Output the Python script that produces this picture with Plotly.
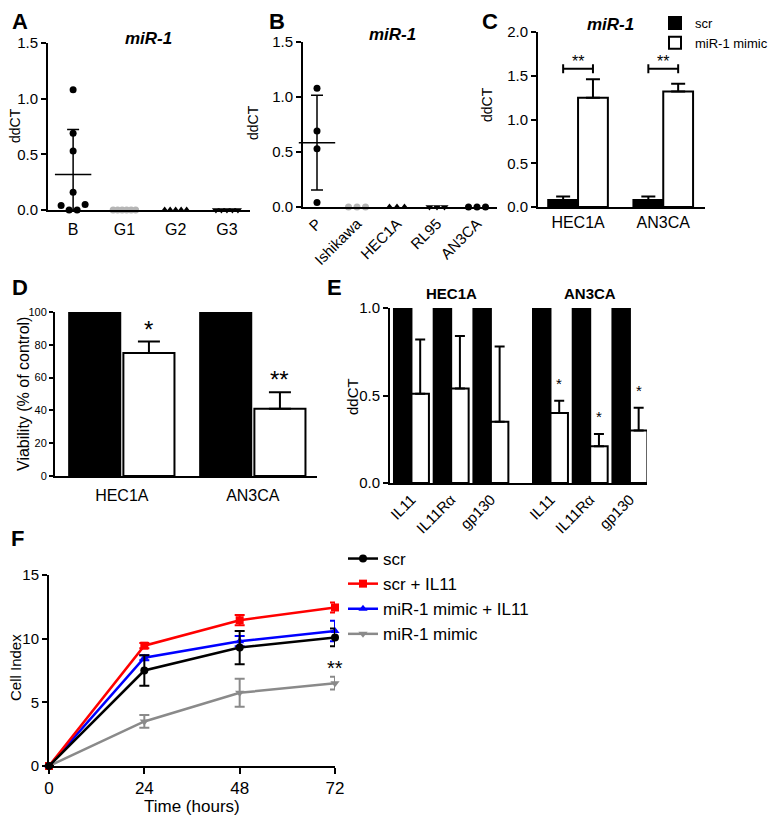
import plotly.graph_objects as go

W, H = 779, 819          # browser window
OFF = 8                  # default page margin of the html body
FW, FH = W - OFF, H - OFF
FONT = "Liberation Sans, Arial, sans-serif"

# ------------------------------------------------------------------ data
A_categories = ["B", "G1", "G2", "G3"]
A_B = [1.08, 0.69, 0.53, 0.16, 0.04, 0.00, 0.00, 0.05]
A_G1 = [0.0, 0.0, 0.0, 0.0, 0.0, 0.0]
A_G2 = [0.0, 0.0, 0.0, 0.0, 0.0]
A_G3 = [0.0, 0.0, 0.0, 0.0, 0.0]

B_categories = ["P", "Ishikawa", "HEC1A", "RL95", "AN3CA"]
B_P = [1.08, 0.69, 0.53, 0.04]
B_Ishikawa = [0.0, 0.0, 0.0]
B_HEC1A = [0.0, 0.0, 0.0]
B_RL95 = [0.0, 0.0, 0.0]
B_AN3CA = [0.0, 0.0, 0.0]

C_groups = ["HEC1A", "AN3CA"]
C_scr = [0.08, 0.08]
C_scr_err = [0.04, 0.04]
C_mimic = [1.25, 1.32]
C_mimic_err = [0.21, 0.09]
C_sig = ["**", "**"]
C_bracket_level = 1.58

D_groups = ["HEC1A", "AN3CA"]
D_scr = [100, 100]
D_mimic = [75, 41]
D_mimic_err = [7, 10]
D_sig = ["*", "**"]

E_cell_lines = ["HEC1A", "AN3CA"]
E_genes = ["IL11", "IL11Rα", "gp130"]
E_scr = [1.0, 1.0, 1.0, 1.0, 1.0, 1.0]
E_mimic = [0.51, 0.54, 0.35, 0.40, 0.21, 0.30]
E_mimic_err = [0.31, 0.30, 0.43, 0.07, 0.07, 0.13]
E_sig = ["", "", "", "*", "*", "*"]

F_time = [0, 24, 48, 72]
F_scr = [0, 7.5, 9.3, 10.1]
F_scr_err = [0, 1.2, 1.3, 0.7]
F_scr_il11 = [0, 9.45, 11.45, 12.45]
F_scr_il11_err = [0, 0.2, 0.4, 0.4]
F_mimic_il11 = [0, 8.5, 9.8, 10.6]
F_mimic_il11_err = [0, 0.2, 0.4, 0.8]
F_mimic = [0, 3.5, 5.75, 6.5]
F_mimic_err = [0, 0.5, 1.1, 0.5]
F_sig = "**"

# ------------------------------------------------------------------ layout geometry (window pixels)
BOX = {
    "A": (48, 250, 43, 210),
    "B": (303, 497, 42, 207),
    "C": (538, 705, 32, 207),
    "D": (55, 317, 312, 476),
    "E": (390, 647, 308, 483),
    "F": (49, 335, 575, 766),
}
RANGE = {
    "A": ([-0.49, 3.45], [0, 1.5]),
    "B": ([-0.35, 4.5], [0, 1.5]),
    "C": ([-0.47, 1.49], [0, 2.0]),
    "D": ([-0.51, 1.49], [0, 100]),
    "E": ([-0.54, 5.93], [0, 1.0]),
    "F": ([0, 72], [0, 15]),
}
AXN = {"A": "", "B": "2", "C": "3", "D": "4", "E": "5", "F": "6"}

BLACK = "black"
LGREY = "#b5b5b5"
GREY = "#8a8a8a"


def px2paper_x(p):
    return (p - OFF) / FW


def px2paper_y(p):
    return 1 - (p - OFF) / FH


def px_per_unit(panel):
    x0, x1, y0, y1 = BOX[panel]
    xr, yr = RANGE[panel]
    return (x1 - x0) / (xr[1] - xr[0]), (y1 - y0) / (yr[1] - yr[0])


def mean_sd(vals):
    n = len(vals)
    m = sum(vals) / n
    if n < 2:
        return m, 0.0
    v = sum((x - m) ** 2 for x in vals) / (n - 1)
    return m, v ** 0.5


def swarm(vals, panel, spacing_px, tol_px=7):
    """simple beeswarm: values that overlap vertically are laid out side by side"""
    ux, uy = px_per_unit(panel)
    clusters = []
    for i, v in enumerate(vals):
        for c in clusters:
            if abs(vals[c[0]] - v) * uy < tol_px:
                c.append(i)
                break
        else:
            clusters.append([i])
    offs = [0.0] * len(vals)
    for c in clusters:
        n = len(c)
        for k, idx in enumerate(c):
            offs[idx] = (k - (n - 1) / 2) * spacing_px / ux
    return offs


fig = go.Figure()


def xa(p):
    return "x" + AXN[p]


def ya(p):
    return "y" + AXN[p]


# ------------------------------------------------------------------ dot plots A and B
def dot_panel(panel, groups, styles):
    for i, (vals, (sym, col, sp)) in enumerate(zip(groups, styles)):
        offs = swarm(vals, panel, sp)
        fig.add_trace(go.Scatter(
            x=[i + o for o in offs], y=vals, mode="markers",
            marker=dict(symbol=sym, size=7, color=col, line=dict(width=0)),
            xaxis=xa(panel), yaxis=ya(panel), showlegend=False, cliponaxis=False,
            hoverinfo="skip"))
        m, sd = mean_sd(vals)
        if sd > 0:
            fig.add_trace(go.Scatter(
                x=[i], y=[m], mode="markers",
                marker=dict(symbol="line-ew", size=26, color=BLACK,
                            line=dict(width=1.5, color=BLACK)),
                error_y=dict(type="data", symmetric=False, array=[sd],
                             arrayminus=[min(sd, m)], width=6, thickness=1.5, color=BLACK),
                xaxis=xa(panel), yaxis=ya(panel), showlegend=False, cliponaxis=False,
                hoverinfo="skip"))


dot_panel("A", [A_B, A_G1, A_G2, A_G3],
          [("circle", BLACK, 8), ("circle", LGREY, 4.5),
           ("triangle-up", BLACK, 5.5), ("triangle-down", BLACK, 5.5)])
dot_panel("B", [B_P, B_Ishikawa, B_HEC1A, B_RL95, B_AN3CA],
          [("circle", BLACK, 8), ("circle", LGREY, 8.5),
           ("triangle-up", BLACK, 7.5), ("triangle-down", BLACK, 7.5), ("circle", BLACK, 8.5)])

# ------------------------------------------------------------------ C bars
CW = 0.35
cx = list(range(len(C_groups)))
fig.add_trace(go.Bar(
    x=cx, y=C_scr, width=CW, offset=-CW, name="scr",
    marker=dict(color=BLACK, line=dict(color=BLACK, width=2)),
    error_y=dict(type="data", symmetric=False, array=C_scr_err, arrayminus=[0] * 2,
                 width=7, thickness=2, color=BLACK),
    xaxis=xa("C"), yaxis=ya("C"), legend="legend", hoverinfo="skip"))
fig.add_trace(go.Bar(
    x=cx, y=C_mimic, width=CW, offset=0, name="miR-1 mimic",
    marker=dict(color="white", line=dict(color=BLACK, width=2)),
    error_y=dict(type="data", symmetric=False, array=C_mimic_err, arrayminus=[0] * 2,
                 width=7, thickness=2, color=BLACK),
    xaxis=xa("C"), yaxis=ya("C"), legend="legend", hoverinfo="skip"))

shapes = []
annotations = []


def note(**kw):
    d = dict(showarrow=False, xanchor="center", yanchor="middle")
    d.update(kw)
    annotations.append(d)


_, cuy = px_per_unit("C")
cap = 4.5 / cuy
for i, s in enumerate(C_sig):
    xl, xr = i - CW / 2, i + CW / 2
    shapes.append(dict(type="line", xref="x3", yref="y3", x0=xl, x1=xr,
                       y0=C_bracket_level, y1=C_bracket_level, line=dict(color=BLACK, width=2)))
    for xe in (xl, xr):
        shapes.append(dict(type="line", xref="x3", yref="y3", x0=xe, x1=xe,
                           y0=C_bracket_level - cap, y1=C_bracket_level + cap,
                           line=dict(color=BLACK, width=2)))
    note(x=i, y=C_bracket_level, xref="x3", yref="y3", text=s, yanchor="bottom", yshift=-3,
         font=dict(size=16, color=BLACK, family=FONT))

# ------------------------------------------------------------------ D bars
DW = 0.39
dx = list(range(len(D_groups)))
fig.add_trace(go.Bar(
    x=dx, y=D_scr, width=DW, offset=-DW - 0.012, showlegend=False,
    marker=dict(color=BLACK, line=dict(color=BLACK, width=2)),
    xaxis=xa("D"), yaxis=ya("D"), hoverinfo="skip"))
fig.add_trace(go.Bar(
    x=dx, y=D_mimic, width=DW, offset=0.012, showlegend=False,
    marker=dict(color="white", line=dict(color=BLACK, width=2)),
    error_y=dict(type="data", symmetric=False, array=D_mimic_err, arrayminus=[0] * 2,
                 width=11, thickness=2, color=BLACK),
    xaxis=xa("D"), yaxis=ya("D"), hoverinfo="skip"))
for i, s in enumerate(D_sig):
    note(x=i + 0.012 + DW / 2, y=D_mimic[i] + D_mimic_err[i], xref="x4", yref="y4", text=s,
         yanchor="bottom", yshift=-3, font=dict(size=24, color=BLACK, family=FONT))

# ------------------------------------------------------------------ E bars
EW = 0.44
GROUP_GAP = 0.5
ex = [g + li * (len(E_genes) + GROUP_GAP) for li in range(len(E_cell_lines))
      for g in range(len(E_genes))]
fig.add_trace(go.Bar(
    x=ex, y=E_scr, width=EW, offset=-EW, showlegend=False,
    marker=dict(color=BLACK, line=dict(color=BLACK, width=2)),
    xaxis=xa("E"), yaxis=ya("E"), hoverinfo="skip"))
fig.add_trace(go.Bar(
    x=ex, y=E_mimic, width=EW, offset=0, showlegend=False,
    marker=dict(color="white", line=dict(color=BLACK, width=2)),
    error_y=dict(type="data", symmetric=False, array=E_mimic_err, arrayminus=[0] * 6,
                 width=5, thickness=2, color=BLACK),
    xaxis=xa("E"), yaxis=ya("E"), hoverinfo="skip"))
for i, s in enumerate(E_sig):
    if s:
        note(x=ex[i] + EW / 2, y=E_mimic[i] + E_mimic_err[i], xref="x5", yref="y5", text=s,
             yanchor="bottom", yshift=7, font=dict(size=15, color=BLACK, family=FONT))
for li, name in enumerate(E_cell_lines):
    xs = ex[li * len(E_genes):(li + 1) * len(E_genes)]
    note(x=sum(xs) / len(xs), y=px2paper_y(293), xref="x5", yref="paper",
         text="<b>%s</b>" % name, font=dict(size=15, color=BLACK, family=FONT))

# ------------------------------------------------------------------ F lines
F_series = [
    ("scr", F_scr, F_scr_err, BLACK, "circle", 1),
    ("scr + IL11", F_scr_il11, F_scr_il11_err, "#ff0000", "square", 2),
    ("miR-1 mimic + IL11", F_mimic_il11, F_mimic_il11_err, "#0000ff", "triangle-up", 3),
    ("miR-1 mimic", F_mimic, F_mimic_err, GREY, "triangle-down", 4),
]
for name, vals, err, col, sym, rank in reversed(F_series):
    fig.add_trace(go.Scatter(
        x=F_time, y=vals, mode="lines+markers", name=name,
        line=dict(color=col, width=2.5),
        marker=dict(symbol=sym, size=8, color=col),
        error_y=dict(type="data", array=err, width=5, thickness=2, color=col),
        xaxis=xa("F"), yaxis=ya("F"), legend="legend2", legendrank=rank,
        cliponaxis=False, hoverinfo="skip"))
note(x=F_time[-1], y=F_mimic[-1] + F_mimic_err[-1], xref="x6", yref="y6", text=F_sig,
     yanchor="bottom", yshift=-4, font=dict(size=20, color=BLACK, family=FONT))

# ------------------------------------------------------------------ axes


def base_axis(panel, is_x, **kw):
    x0, x1, y0, y1 = BOX[panel]
    xr, yr = RANGE[panel]
    if is_x:
        dom = [px2paper_x(x0), px2paper_x(x1)]
        rng = xr
        anchor = ya(panel)
    else:
        dom = [px2paper_y(y1), px2paper_y(y0)]
        rng = yr
        anchor = xa(panel)
    d = dict(domain=dom, range=rng, anchor=anchor, showline=True, linecolor=BLACK,
             linewidth=2, showgrid=False, zeroline=False, ticks="outside", ticklen=5,
             tickwidth=2, tickcolor=BLACK, fixedrange=True, automargin=False,
             tickfont=dict(size=15, color=BLACK, family=FONT))
    d.update(kw)
    return d


ax = {}
ax["xaxis"] = base_axis("A", True, ticks="", tickvals=list(range(4)), ticktext=A_categories,
                        ticklabelstandoff=4, tickfont=dict(size=16, color=BLACK, family=FONT))
ax["yaxis"] = base_axis("A", False, tickvals=[0, 0.5, 1.0, 1.5], tickformat=".1f")
ax["xaxis2"] = base_axis("B", True, ticks="", tickvals=list(range(5)), ticktext=B_categories,
                         tickangle=-45, tickfont=dict(size=15, color=BLACK, family=FONT))
ax["yaxis2"] = base_axis("B", False, tickvals=[0, 0.5, 1.0, 1.5], tickformat=".1f")
ax["xaxis3"] = base_axis("C", True, ticks="", tickvals=cx, ticktext=C_groups,
                         tickfont=dict(size=16, color=BLACK, family=FONT))
ax["yaxis3"] = base_axis("C", False, tickvals=[0, 0.5, 1.0, 1.5, 2.0], tickformat=".1f")
ax["xaxis4"] = base_axis("D", True, ticks="", tickvals=dx, ticktext=D_groups,
                         ticklabelstandoff=4, tickfont=dict(size=16, color=BLACK, family=FONT))
ax["yaxis4"] = base_axis("D", False, tickvals=[0, 20, 40, 60, 80, 100], ticklen=4,
                         tickfont=dict(size=11, color=BLACK, family=FONT))
ax["xaxis5"] = base_axis("E", True, ticks="", tickvals=ex, ticktext=E_genes * 2,
                         tickangle=-45, tickfont=dict(size=15, color=BLACK, family=FONT))
ax["yaxis5"] = base_axis("E", False, tickvals=[0, 0.5, 1.0], tickformat=".1f")
ax["xaxis6"] = base_axis("F", True, tickvals=F_time, ticklen=6,
                         tickfont=dict(size=17, color=BLACK, family=FONT))
ax["yaxis6"] = base_axis("F", False, tickvals=[0, 5, 10, 15], ticklen=5,
                         tickfont=dict(size=15, color=BLACK, family=FONT))

# panel letters, titles, axis titles
for letter, (lx, ly) in {"A": (20, 21), "B": (277, 21), "C": (490, 21),
                         "D": (20, 287), "E": (334, 287), "F": (17, 538)}.items():
    note(x=px2paper_x(lx), y=px2paper_y(ly), xref="paper", yref="paper",
         text="<b>%s</b>" % letter, font=dict(size=22, color=BLACK, family=FONT))
for tx, ty in [(148, 38), (392, 35), (610, 24)]:
    note(x=px2paper_x(tx), y=px2paper_y(ty), xref="paper", yref="paper",
         text="<b><i>miR-1</i></b>", font=dict(size=17, color=BLACK, family=FONT))
for text, tx, ty, size in [("ddCT", 15, 126, 14), ("ddCT", 253, 122, 14), ("ddCT", 487, 105, 14),
                           ("Viability (% of control)", 23, 394, 16), ("ddCT", 352, 397, 15),
                           ("Cell Index", 15, 668, 15)]:
    note(x=px2paper_x(tx), y=px2paper_y(ty), xref="paper", yref="paper",
         text=text, textangle=-90, font=dict(size=size, color=BLACK, family=FONT))
note(x=px2paper_x(192), y=px2paper_y(806), xref="paper", yref="paper",
     text="Time (hours)", font=dict(size=17, color=BLACK, family=FONT))

fig.update_layout(
    width=FW, height=FH, autosize=False,
    margin=dict(l=0, r=0, t=0, b=0, pad=0, autoexpand=False),
    paper_bgcolor="white", plot_bgcolor="white",
    barmode="overlay",
    font=dict(family=FONT, color=BLACK),
    shapes=shapes, annotations=annotations,
    legend=dict(x=px2paper_x(655), y=px2paper_y(8), xanchor="left", yanchor="top",
                bgcolor="rgba(0,0,0,0)", font=dict(size=13, color=BLACK, family=FONT),
                tracegroupgap=0),
    legend2=dict(x=px2paper_x(343), y=px2paper_y(541), xanchor="left", yanchor="top",
                 bgcolor="rgba(0,0,0,0)", font=dict(size=17, color=BLACK, family=FONT),
                 tracegroupgap=0, traceorder="normal"),
    **ax,
)

fig.write_html("out.html")
